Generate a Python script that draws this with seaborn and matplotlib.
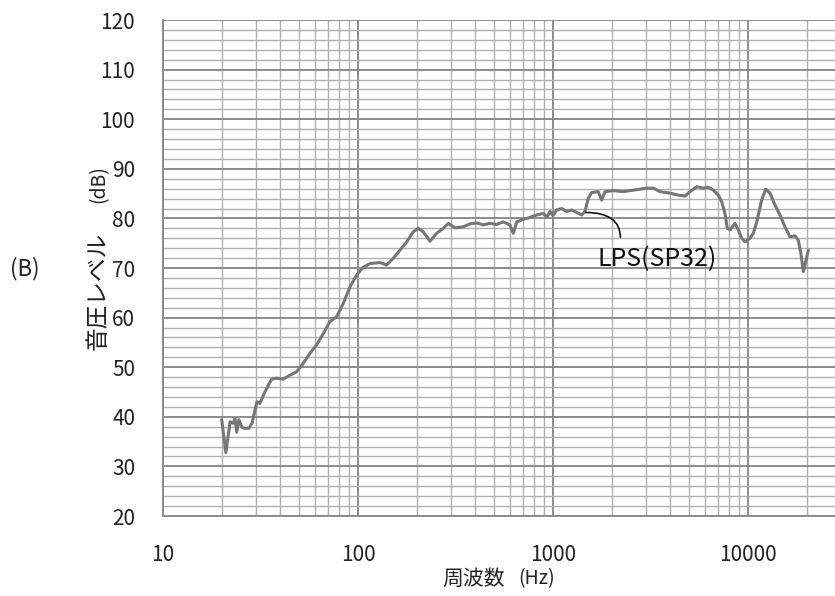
import numpy as np
import pandas as pd
import seaborn as sns
import matplotlib.pyplot as plt
from matplotlib.ticker import FixedLocator, NullFormatter

# frequency response (Hz, dB)
freq_hz = [20.0, 21.0, 22.1, 22.9, 23.4, 23.9, 24.5, 25.4, 26.0, 27.6, 28.6, 30.3, 31.4,
           33.3, 35.4, 36.1, 38.3, 41.4, 44.8, 48.5, 52.4, 56.7, 61.4, 66.4, 71.8, 77.8,
           84.1, 91.0, 98.4, 106, 115, 130, 140, 152, 164, 178, 192, 204, 216, 234, 253,
           274, 290, 314, 347, 375, 406, 440, 475, 514, 556, 601, 626, 651, 704, 762,
           824, 892, 930, 966, 1000, 1045, 1108, 1175, 1247, 1322, 1403, 1459, 1517,
           1578, 1706, 1777, 1848, 2038, 2293, 2582, 3026, 3268, 3538, 3981, 4393, 4753,
           5043, 5457, 5902, 6257, 6637, 7040, 7325, 7618, 7833, 8084, 8579, 8917, 9283,
           9652, 10240, 10650, 11090, 11750, 12320, 12970, 13750, 14590, 15480, 16410,
           17420, 18110, 18660, 19240, 19780, 20380]
spl_db = [39.4, 32.8, 39.0, 38.7, 39.6, 36.9, 39.4, 37.9, 37.7, 37.7, 38.7, 43.0, 42.7,
          45.0, 47.0, 47.6, 47.8, 47.6, 48.4, 49.1, 50.8, 52.8, 54.5, 56.8, 59.2, 60.2,
          62.9, 66.2, 68.6, 70.1, 70.9, 71.1, 70.6, 72.0, 73.6, 75.3, 77.3, 78.0, 77.3,
          75.4, 77.0, 78.0, 79.0, 78.1, 78.3, 78.9, 79.1, 78.7, 79.0, 78.8, 79.3, 78.7,
          77.0, 79.3, 79.8, 80.2, 80.7, 81.0, 80.3, 81.4, 80.6, 81.7, 82.0, 81.4, 81.7,
          81.2, 80.7, 81.4, 84.1, 85.2, 85.4, 83.7, 85.4, 85.6, 85.4, 85.7, 86.1, 86.1,
          85.4, 85.1, 84.7, 84.5, 85.4, 86.4, 86.1, 86.3, 85.7, 84.7, 83.4, 81.0, 78.0,
          77.7, 79.0, 77.7, 76.0, 75.3, 76.0, 77.0, 79.3, 83.7, 85.9, 85.1, 82.7, 80.7,
          78.3, 76.3, 76.5, 75.6, 73.0, 69.3, 71.3, 73.6]

x_ticks = [10, 100, 1000, 10000]
x_tick_labels = ["10", "100", "1000", "10000"]
y_ticks = list(range(20, 121, 10))

df = pd.DataFrame({"freq": freq_hz, "spl": spl_db})

sns.set_style("white")
narrow = ["Liberation Sans Narrow", "DejaVu Sans Condensed", "Noto Sans CJK JP", "DejaVu Sans"]
plt.rcParams["font.family"] = narrow

fig = plt.figure(figsize=(8.35, 5.96), dpi=100)
ax = fig.add_axes([0.1952, 0.1342, 0.8048, 0.8322])

sns.lineplot(data=df, x="freq", y="spl", ax=ax, color="#767676", linewidth=2.2,
             sort=False, zorder=3)

ax.set_xscale("log")
ax.set_xlim(10, 10 ** (1 + 672 / 195))
ax.set_ylim(20, 120)

ax.xaxis.set_major_locator(FixedLocator(x_ticks))
ax.set_xticklabels(x_tick_labels)
minor_x = [m * 10 ** d for d in range(1, 5) for m in range(2, 10)]
ax.xaxis.set_minor_locator(FixedLocator(minor_x))
ax.xaxis.set_minor_formatter(NullFormatter())
ax.yaxis.set_major_locator(FixedLocator(y_ticks))
ax.yaxis.set_minor_locator(FixedLocator(list(range(22, 120, 2))))

ax.grid(which="major", color="#8c8c8c", linewidth=1.4)
ax.grid(which="minor", color="#b0b0b0", linewidth=1.0)
ax.set_axisbelow(True)
ax.tick_params(which="both", length=0)
ax.tick_params(axis="y", pad=20, labelsize=15, labelcolor="#222222")
ax.tick_params(axis="x", pad=20, labelsize=15, labelcolor="#222222")
for side in ["top", "right"]:
    ax.spines[side].set_visible(False)
for side in ["left", "bottom"]:
    ax.spines[side].set_color("#8c8c8c")
    ax.spines[side].set_linewidth(1.4)

ax.set_xlabel("")
ax.set_ylabel("")
fig.text(0.605, 0.029, "周波数", ha="right", va="center", fontsize=15,
         family=["Noto Sans CJK JP"], color="#222222")
fig.text(0.621, 0.029, "(Hz)", ha="left", va="center", fontsize=14,
         family=narrow, color="#222222")
fig.text(0.118, 0.413, "音圧レベル", ha="center", va="bottom", rotation=90, fontsize=17,
         family=["Noto Sans CJK JP"], color="#222222")
fig.text(0.118, 0.659, "(dB)", ha="center", va="bottom", rotation=90, fontsize=14,
         family=narrow, color="#222222")
fig.text(0.03, 0.55, "(B)", ha="center", va="center", fontsize=16, color="#222222")

ax.annotate("LPS(SP32)", xy=(1470, 81.2), xytext=(3400, 71.8),
            ha="center", va="center", fontsize=18, color="#111111",
            arrowprops=dict(arrowstyle="-", color="#111111", lw=1.2,
                            connectionstyle="angle3,angleA=80,angleB=0",
                            relpos=(0.19, 1.0), shrinkA=4, shrinkB=0))

fig.savefig("out.png", dpi=100)
